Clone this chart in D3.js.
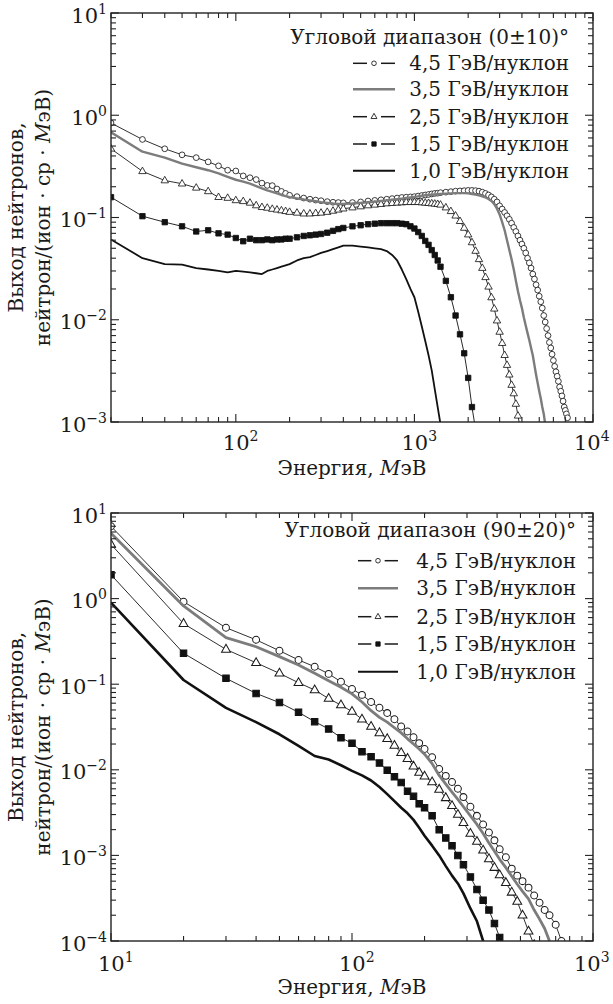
<!DOCTYPE html>
<html>
<head>
<meta charset="utf-8">
<script src="https://cdn.jsdelivr.net/npm/d3@7"></script>
<style>
  body { margin: 0; background: #fff; }
  svg { display: block; }
  text { font-family: "DejaVu Serif", serif; fill: #1a1a1a; }
</style>
</head>
<body>
<svg width="613" height="1004"></svg>
<script>
(function () {
    // Forward angles (0±10)°: neutron energy, MeV
    const topEnergy = [
        20, 30, 40, 50, 60, 70, 80, 90, 100, 110,
        120, 130, 140, 150, 160, 170, 180, 190, 200, 220,
        240, 260, 280, 300, 325, 350, 375, 400, 450, 500,
        550, 600, 650, 700, 750, 800, 850, 900, 950, 1000,
        1050, 1100, 1150, 1200, 1250, 1300, 1350, 1400, 1500, 1600,
        1700, 1800, 1900, 2000, 2100, 2200, 2300, 2400, 2500, 2600,
        2700, 2800, 2900, 3000, 3100, 3200, 3300, 3400, 3500, 3600,
        3700, 3800, 3900, 4000, 4100, 4200, 4300, 4400, 4500, 4600,
        4700, 4800, 4900, 5000, 5100, 5200, 5300, 5400, 5500, 5600,
        5700, 5800, 5900, 6000, 6100, 6200, 6300, 6400, 6500, 6600,
        6700, 6800, 6900, 7000, 7100, 7200
    ];
    const top45 = [
        0.84, 0.58, 0.47, 0.41, 0.385, 0.35, 0.32, 0.29, 0.285, 0.255,
        0.245, 0.235, 0.217, 0.206, 0.205, 0.19, 0.18, 0.172, 0.165, 0.16,
        0.155, 0.151, 0.148, 0.146, 0.143, 0.141, 0.14, 0.139, 0.14, 0.142,
        0.145, 0.147, 0.149, 0.151, 0.153, 0.155, 0.157, 0.158, 0.159, 0.16,
        0.162, 0.164, 0.166, 0.168, 0.17, 0.172, 0.173, 0.175, 0.177, 0.179,
        0.181, 0.182, 0.183, 0.184, 0.184, 0.183, 0.181, 0.177, 0.172, 0.166,
        0.159, 0.151, 0.142, 0.13, 0.121, 0.112, 0.104, 0.096, 0.088, 0.08,
        0.073, 0.066, 0.06, 0.055, 0.05, 0.045, 0.04, 0.036, 0.032, 0.028,
        0.025, 0.022, 0.0195, 0.017, 0.015, 0.013, 0.011, 0.0095, 0.0082, 0.007,
        0.006, 0.0053, 0.0046, 0.004, 0.0035, 0.0031, 0.0028, 0.0025, 0.0022, 0.002,
        0.0018, 0.0016, 0.0014, 0.0013, 0.0012, 0.0011
    ];
    const top35 = [
        0.68, 0.44, 0.385, 0.336, 0.31, 0.29, 0.27, 0.25, 0.234, 0.224,
        0.214, 0.203, 0.193, 0.184, 0.178, 0.172, 0.166, 0.162, 0.158, 0.154,
        0.15, 0.147, 0.144, 0.141, 0.139, 0.137, 0.136, 0.136, 0.137, 0.139,
        0.141, 0.143, 0.145, 0.147, 0.149, 0.151, 0.153, 0.155, 0.157, 0.159,
        0.161, 0.163, 0.165, 0.166, 0.167, 0.168, 0.169, 0.17, 0.171, 0.172,
        0.173, 0.173, 0.173, 0.172, 0.17, 0.168, 0.165, 0.161, 0.157, 0.152,
        0.145, 0.135, 0.122, 0.107, 0.09, 0.075, 0.06, 0.048, 0.039, 0.031,
        0.024, 0.019, 0.0155, 0.013, 0.0105, 0.0088, 0.0074, 0.0063, 0.0053, 0.0045,
        0.0036, 0.0029, 0.0024, 0.002, 0.0017, 0.0014, 0.0012, 0.00095
    ];
    const top25 = [
        0.47, 0.283, 0.23, 0.214, 0.195, 0.18, 0.158, 0.155, 0.147, 0.144,
        0.139, 0.131, 0.126, 0.124, 0.121, 0.119, 0.117, 0.115, 0.113, 0.111,
        0.109, 0.109, 0.11, 0.111, 0.113, 0.116, 0.119, 0.122, 0.125, 0.128,
        0.131, 0.133, 0.135, 0.137, 0.138, 0.139, 0.14, 0.141, 0.141, 0.141,
        0.141, 0.14, 0.139, 0.138, 0.137, 0.136, 0.135, 0.133, 0.125, 0.115,
        0.104, 0.092, 0.079, 0.068, 0.057, 0.047, 0.039, 0.032, 0.026, 0.021,
        0.0165, 0.0128, 0.0098, 0.0076, 0.0059, 0.0045, 0.0036, 0.0029, 0.0023, 0.0019,
        0.0015, 0.00115, 0.0009
    ];
    const top15 = [
        0.158, 0.103, 0.09, 0.082, 0.073, 0.075, 0.07, 0.068, 0.063, 0.0586,
        0.062, 0.06, 0.06, 0.061, 0.06, 0.061, 0.061, 0.062, 0.062, 0.064,
        0.066, 0.067, 0.068, 0.069, 0.071, 0.074, 0.077, 0.079, 0.082, 0.084,
        0.086, 0.087, 0.088, 0.088, 0.088, 0.088, 0.087, 0.086, 0.082, 0.078,
        0.072, 0.066, 0.059, 0.054, 0.048, 0.043, 0.038, 0.033, 0.024, 0.0166,
        0.011, 0.0072, 0.0047, 0.0027, 0.0014, 0.00085
    ];
    const top10 = [
        0.061, 0.04, 0.035, 0.0346, 0.032, 0.031, 0.03, 0.029, 0.03, 0.0295,
        0.029, 0.0285, 0.028, 0.03, 0.031, 0.032, 0.033, 0.034, 0.035, 0.038,
        0.04, 0.041, 0.043, 0.045, 0.047, 0.049, 0.051, 0.053, 0.053, 0.052,
        0.051, 0.05, 0.049, 0.047, 0.043, 0.038, 0.031, 0.025, 0.02, 0.0166,
        0.012, 0.0086, 0.0062, 0.0045, 0.0032, 0.0021, 0.0014, 0.00095
    ];

    // Angles (90±20)°
    const botEnergy = [
        10, 20, 30, 40, 50, 60, 70, 80, 90, 100,
        110, 120, 130, 140, 150, 160, 170, 180, 190, 200,
        215, 230, 245, 260, 275, 290, 310, 330, 350, 370,
        390, 410, 435, 460, 485, 510, 540, 570, 600, 630,
        660, 700, 740
    ];
    const bot45 = [
        7.0, 0.92, 0.457, 0.33, 0.246, 0.192, 0.16, 0.132, 0.107, 0.088,
        0.075, 0.062, 0.053, 0.046, 0.039, 0.032, 0.028, 0.024, 0.0205, 0.0175,
        0.014, 0.0102, 0.0085, 0.0072, 0.006, 0.0048, 0.0037, 0.0029, 0.0023, 0.00185,
        0.0015, 0.00118, 0.00095, 0.0007, 0.00058, 0.0005, 0.00042, 0.00034, 0.00028, 0.00023,
        0.0002, 0.000155, 0.0001
    ];
    const bot35 = [
        5.8, 0.82, 0.35, 0.274, 0.21, 0.168, 0.134, 0.11, 0.092, 0.077,
        0.062, 0.049, 0.041, 0.036, 0.031, 0.027, 0.023, 0.02, 0.0175, 0.0152,
        0.0118, 0.0086, 0.0068, 0.0055, 0.0045, 0.0037, 0.0029, 0.0023, 0.0018, 0.0014,
        0.00112, 0.0009, 0.00072, 0.00057, 0.00046, 0.00038, 0.00031, 0.00023, 0.00018, 0.00014,
        0.0001
    ];
    const bot25 = [
        4.3, 0.51, 0.255, 0.178, 0.134, 0.104, 0.0855, 0.068, 0.057, 0.048,
        0.039, 0.032, 0.027, 0.023, 0.0192, 0.0158, 0.0135, 0.011, 0.0093, 0.0084,
        0.0072, 0.0059, 0.0047, 0.0038, 0.003, 0.0024, 0.0018, 0.00145, 0.00115, 0.00091,
        0.00072, 0.00059, 0.00048, 0.00037, 0.00029, 0.0002, 0.00013, 0.00009
    ];
    const bot15 = [
        1.9, 0.23, 0.117, 0.078, 0.061, 0.047, 0.0365, 0.03, 0.0237, 0.0204,
        0.0163, 0.0142, 0.012, 0.0099, 0.0083, 0.0071, 0.0056, 0.0049, 0.004, 0.0036,
        0.0029, 0.002, 0.0016, 0.0013, 0.001, 0.00078, 0.00056, 0.0004, 0.0003, 0.00023,
        0.00016, 0.00011, 0.00008
    ];
    const bot10 = [
        0.9, 0.112, 0.053, 0.036, 0.026, 0.019, 0.0145, 0.0132, 0.0113, 0.0097,
        0.0086, 0.0075, 0.0063, 0.0052, 0.0043, 0.0036, 0.0031, 0.0026, 0.0021, 0.0017,
        0.0013, 0.001, 0.00075, 0.00058, 0.00047, 0.00036, 0.00024, 0.00017, 0.0001, 0.00007
    ];

    const beams = ["4,5 ГэВ/нуклон", "3,5 ГэВ/нуклон", "2,5 ГэВ/нуклон", "1,5 ГэВ/нуклон", "1,0 ГэВ/нуклон"];
    const angleTitles = ["Угловой диапазон (0±10)°", "Угловой диапазон (90±20)°"];

    const svg = d3.select("svg");

    // marker shapes
    const markerPath = {
        circle: d3.symbol(d3.symbolCircle, 26)(),
        triangle: "M0,-4.2L3.7,2.3L-3.7,2.3Z",
        square: "M-2.7,-2.7h5.4v5.4h-5.4Z"
    };

    // one style per beam, same order as beams
    const styles = [
        { marker: "circle", fill: "#fff", stroke: "#1a1a1a", kind: "thin" },
        { marker: null, stroke: "#7c7c7c", kind: "gray" },
        { marker: "triangle", fill: "#fff", stroke: "#1a1a1a", kind: "thin" },
        { marker: "square", fill: "#111", stroke: "#111", kind: "thin" },
        { marker: null, stroke: "#111", kind: "black" }
    ];

    const panels = [
        {
            energy: topEnergy,
            series: [top45, top35, top25, top15, top10],
            xDomain: [20, 10000], yDomain: [1e-3, 10],
            box: { l: 111, r: 593, t: 13, b: 422 },
            widths: { thin: 0.9, gray: 2.4, black: 1.8 },
            markerScale: 1,
            title: angleTitles[0],
            legend: { x: 353, w: 42, right: 569, titleY: 43.5, rows: [63.3, 89.3, 116.7, 144, 170.7] },
            xLabelY: 450, xTitleY: 475
        },
        {
            energy: botEnergy,
            series: [bot45, bot35, bot25, bot15, bot10],
            xDomain: [10, 1000], yDomain: [1e-4, 10],
            box: { l: 111, r: 593, t: 513, b: 941 },
            widths: { thin: 0.9, gray: 2.8, black: 2.6 },
            markerScale: 1.2,
            title: angleTitles[1],
            legend: { x: 358, w: 40, right: 576, titleY: 537, rows: [560.7, 588.3, 616.7, 644, 671.7] },
            xLabelY: 971, xTitleY: 994
        }
    ];

    // "10" with a raised exponent
    function powerLabel(sel, exp) {
        sel.append("tspan").text("10");
        sel.append("tspan")
            .attr("dy", -9)
            .attr("font-size", 14)
            .text(exp < 0 ? "\u2212" + Math.abs(exp) : String(exp));
    }

    panels.forEach((p, pi) => {
        const x = d3.scaleLog().domain(p.xDomain).range([p.box.l, p.box.r]);
        const y = d3.scaleLog().domain(p.yDomain).range([p.box.b, p.box.t]);
        const isMajor = (v) => Math.abs(Math.log10(v) - Math.round(Math.log10(v))) < 1e-9;

        svg.append("clipPath")
            .attr("id", "clip" + pi)
            .append("rect")
            .attr("x", p.box.l)
            .attr("y", p.box.t)
            .attr("width", p.box.r - p.box.l)
            .attr("height", p.box.b - p.box.t);

        const plot = svg.append("g").attr("clip-path", `url(#clip${pi})`);
        const line = d3.line().x((d) => x(d[0])).y((d) => y(d[1]));

        // draw order: markers first, solid lines on top
        [0, 2, 3, 4, 1].forEach((si) => {
            const st = styles[si];
            const pts = p.series[si].map((v, i) => [p.energy[i], v]);
            plot.append("path")
                .datum(pts)
                .attr("d", line)
                .attr("fill", "none")
                .attr("stroke", st.stroke)
                .attr("stroke-width", p.widths[st.kind])
                .attr("stroke-linejoin", "round");
            if (st.marker) {
                plot.append("g")
                    .selectAll("path")
                    .data(pts)
                    .enter()
                    .append("path")
                    .attr("transform", (d) => `translate(${x(d[0])},${y(d[1])}) scale(${p.markerScale})`)
                    .attr("d", markerPath[st.marker])
                    .attr("fill", st.fill)
                    .attr("stroke", st.stroke)
                    .attr("stroke-width", 0.85);
            }
        });

        // frame
        svg.append("rect")
            .attr("x", p.box.l)
            .attr("y", p.box.t)
            .attr("width", p.box.r - p.box.l)
            .attr("height", p.box.b - p.box.t)
            .attr("fill", "none")
            .attr("stroke", "#222")
            .attr("stroke-width", 1.4);

        // inward ticks on all four sides
        const ticks = svg.append("g").attr("stroke", "#222").attr("stroke-width", 1.1);
        x.ticks().forEach((v) => {
            const len = isMajor(v) ? 8 : 5;
            const px = x(v);
            ticks.append("line").attr("x1", px).attr("x2", px).attr("y1", p.box.b).attr("y2", p.box.b - len);
            ticks.append("line").attr("x1", px).attr("x2", px).attr("y1", p.box.t).attr("y2", p.box.t + len);
        });
        y.ticks().forEach((v) => {
            const len = isMajor(v) ? 8 : 5;
            const py = y(v);
            ticks.append("line").attr("x1", p.box.l).attr("x2", p.box.l + len).attr("y1", py).attr("y2", py);
            ticks.append("line").attr("x1", p.box.r).attr("x2", p.box.r - len).attr("y1", py).attr("y2", py);
        });

        // tick labels (last one kept inside the page)
        x.ticks().filter(isMajor).forEach((v) => {
            const t = svg.append("text")
                .attr("x", Math.min(x(v) - 13, 574))
                .attr("y", p.xLabelY)
                .attr("font-size", 21);
            powerLabel(t, Math.round(Math.log10(v)));
        });
        y.ticks().filter(isMajor).forEach((v) => {
            const t = svg.append("text")
                .attr("x", 107)
                .attr("y", y(v) + 9.5)
                .attr("text-anchor", "end")
                .attr("font-size", 21);
            powerLabel(t, Math.round(Math.log10(v)));
        });

        // axis titles
        const xt = svg.append("text")
            .attr("x", (p.box.l + p.box.r) / 2)
            .attr("y", p.xTitleY)
            .attr("text-anchor", "middle")
            .attr("font-size", 20);
        xt.append("tspan").text("Энергия, ");
        xt.append("tspan").attr("font-style", "italic").text("М");
        xt.append("tspan").text("эВ");

        const cy = (p.box.t + p.box.b) / 2;
        svg.append("text")
            .attr("transform", `translate(23,${cy}) rotate(-90)`)
            .attr("text-anchor", "middle")
            .attr("font-size", 20)
            .text("Выход нейтронов,");
        const yt = svg.append("text")
            .attr("transform", `translate(50,${cy}) rotate(-90)`)
            .attr("text-anchor", "middle")
            .attr("font-size", 20);
        yt.append("tspan").text("нейтрон/(ион · ср · ");
        yt.append("tspan").attr("font-style", "italic").text("М");
        yt.append("tspan").text("эВ)");

        // legend
        const lg = p.legend;
        svg.append("text")
            .attr("x", lg.right)
            .attr("y", lg.titleY)
            .attr("text-anchor", "end")
            .attr("font-size", 20)
            .text(p.title);
        beams.forEach((name, i) => {
            const st = styles[i];
            const ly = lg.rows[i];
            const g = svg.append("g");
            if (st.marker) {
                const seg = lg.w / 3;
                [[lg.x, lg.x + seg], [lg.x + 2 * seg, lg.x + lg.w]].forEach((s) => {
                    g.append("line")
                        .attr("x1", s[0]).attr("x2", s[1])
                        .attr("y1", ly).attr("y2", ly)
                        .attr("stroke", "#1a1a1a")
                        .attr("stroke-width", 1.5);
                });
                g.append("path")
                    .attr("transform", `translate(${lg.x + lg.w / 2},${ly}) scale(0.8)`)
                    .attr("d", markerPath[st.marker])
                    .attr("fill", st.fill)
                    .attr("stroke", st.stroke)
                    .attr("stroke-width", 1.1);
            } else {
                g.append("line")
                    .attr("x1", lg.x).attr("x2", lg.x + lg.w)
                    .attr("y1", ly).attr("y2", ly)
                    .attr("stroke", st.stroke)
                    .attr("stroke-width", st.kind === "gray" ? 2.4 : 2);
            }
            svg.append("text")
                .attr("x", lg.right)
                .attr("y", ly + 7)
                .attr("text-anchor", "end")
                .attr("font-size", 20)
                .text(name);
        });
    });
})();
</script>
</body>
</html>
